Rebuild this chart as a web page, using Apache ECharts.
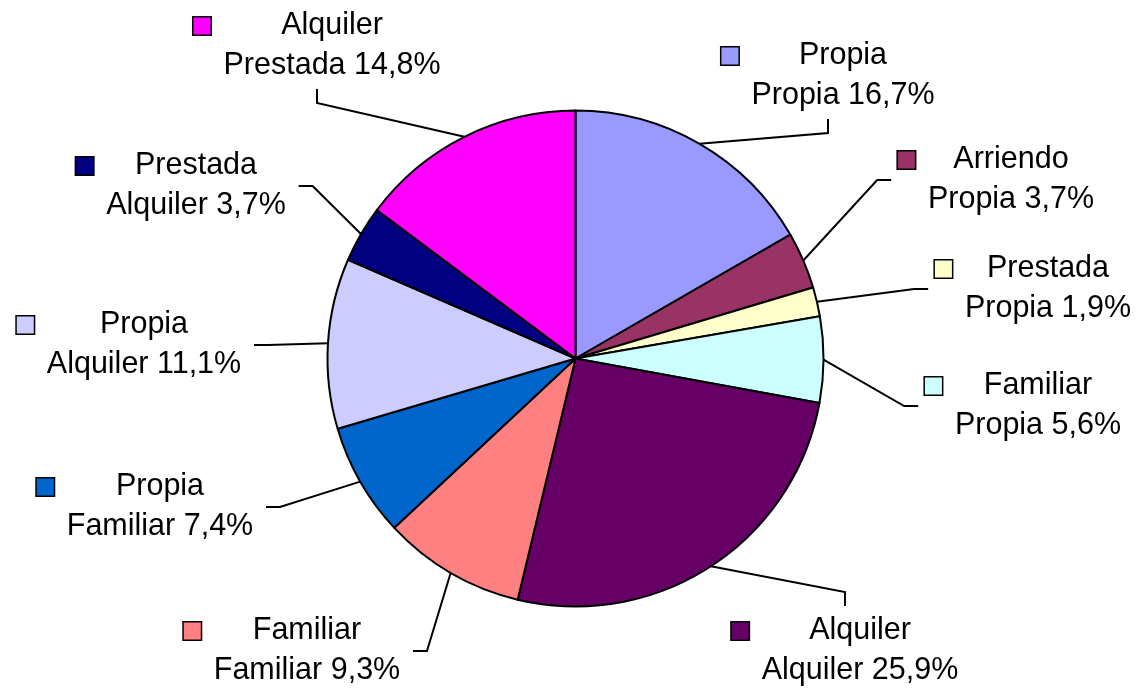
<!DOCTYPE html>
<html>
<head>
<meta charset="utf-8">
<script src="https://cdn.jsdelivr.net/npm/echarts@6/dist/echarts.min.js"></script>
<style>
html, body { margin: 0; padding: 0; background: #fff; }
#chart { width: 1138px; height: 690px; }
</style>
</head>
<body>
<div id="chart"></div>
<script>
// línea 1 de cada etiqueta, línea 2 y porcentaje de cada sector (en sentido horario desde arriba)
const anterior = ['Propia', 'Arriendo', 'Prestada', 'Familiar', 'Alquiler', 'Familiar', 'Propia', 'Propia', 'Prestada', 'Alquiler'];
const actual = ['Propia', 'Propia', 'Propia', 'Propia', 'Alquiler', 'Familiar', 'Familiar', 'Alquiler', 'Alquiler', 'Prestada'];
const porcentajes = [16.7, 3.7, 1.9, 5.6, 25.9, 9.3, 7.4, 11.1, 3.7, 14.8];
const colores = ['#9999FF', '#993366', '#FFFFCC', '#CCFFFF', '#660066', '#FF8080', '#0066CC', '#CCCCFF', '#000080', '#FF00FF'];

// centro de cada caja de etiqueta y lado por el que entra la línea guía
const posEtiquetas = [[828, 76], [996, 180], [1033, 289], [1023, 406], [845, 651], [292, 651], [145, 507], [129, 345], [181, 186], [317, 46]];
const ladoGuia = ['bottom', 'left', 'left', 'left', 'top', 'right', 'right', 'right', 'right', 'bottom'];

const fuente = '"Liberation Sans", Arial, sans-serif';
const fmt = v => v.toFixed(1).replace('.', ',');

const rich = {
    g: { width: 13, height: 17, align: 'left' },
    s: { width: 30, height: 17, align: 'left' },
    t: { fontSize: 30.5, lineHeight: 40, fontFamily: fuente, color: '#000', align: 'center' }
};
colores.forEach((c, i) => {
    rich['k' + i] = { width: 17, height: 17, backgroundColor: c, borderColor: '#000', borderWidth: 1.5, align: 'left' };
});

const chart = echarts.init(document.getElementById('chart'));

const options = {
    backgroundColor: '#fff',
    animation: false,
    series: [
        {
            type: 'pie',
            center: [575.5, 358.5],
            radius: 248,
            startAngle: 90,
            clockwise: true,
            avoidLabelOverlap: false,
            itemStyle: {
                borderColor: '#000',
                borderWidth: 2
            },
            emphasis: { disabled: true },
            label: {
                show: true,
                position: 'outside',
                fontFamily: fuente,
                fontSize: 30.5,
                lineHeight: 40,
                color: '#000',
                formatter: p => {
                    const i = p.dataIndex;
                    return `{k${i}|}{g|}{t|${anterior[i]}}\n{s|}{t|${actual[i]} ${fmt(porcentajes[i])}%}`;
                },
                rich: rich
            },
            labelLine: {
                show: true,
                length: 6,
                length2: 6,
                smooth: false,
                lineStyle: { color: '#000', width: 2 }
            },
            // cada etiqueta va a su sitio; la guía sale del borde del sector hasta la caja
            labelLayout: params => {
                const i = params.dataIndex;
                const [x, y] = posEtiquetas[i];
                const w = params.labelRect.width;
                const h = params.labelRect.height;
                let end, dir;
                switch (ladoGuia[i]) {
                    case 'left': end = [x - w / 2 - 6, y]; dir = [-1, 0]; break;
                    case 'right': end = [x + w / 2 + 12, y]; dir = [1, 0]; break;
                    case 'top': end = [x, y - h / 2 - 5]; dir = [0, -1]; break;
                    default: end = [x, y + h / 2 + 3]; dir = [0, 1];
                }
                const bend = [end[0] + dir[0] * 14, end[1] + dir[1] * 14];
                return {
                    x: x,
                    y: y,
                    align: 'center',
                    verticalAlign: 'middle',
                    labelLinePoints: [params.labelLinePoints[0], bend, end]
                };
            },
            data: porcentajes.map((v, i) => ({
                value: v,
                name: anterior[i] + ' ' + actual[i],
                itemStyle: { color: colores[i] }
            }))
        }
    ]
};

chart.setOption(options);
</script>
</body>
</html>
